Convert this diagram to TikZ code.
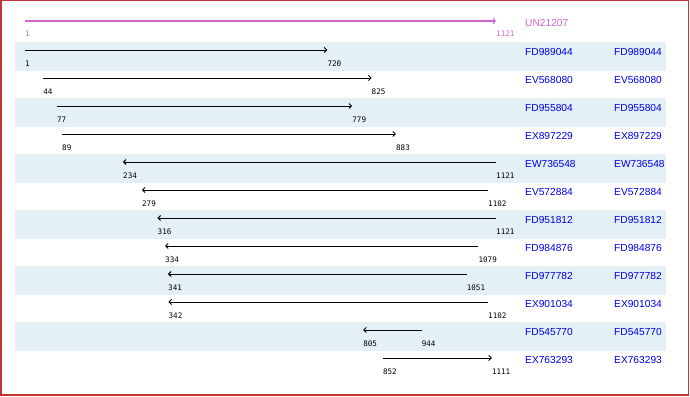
\documentclass[tikz,border=0pt]{standalone}
\usepackage{fontspec}
\setmainfont{Liberation Sans}
\newfontfamily\numfont{DejaVu Sans Mono}
\usetikzlibrary{arrows.meta}
\definecolor{frame}{RGB}{192,52,52}
\definecolor{band}{RGB}{227,240,245}
\definecolor{query}{RGB}{204,102,204}
\definecolor{acc}{RGB}{0,0,230}

\begin{document}
\begin{tikzpicture}[x=1pt, y=-1pt,
  hit/.style={line width=0.9pt, -{Straight Barb[length=2.5pt,width=5pt]}},
  qline/.style={query, line width=2pt, -{Straight Barb[length=2.5pt,width=6pt,line width=0.9pt]}},
  num/.style={font=\numfont\fontsize{7.6}{8}\selectfont, anchor=west, inner sep=0pt},
  accname/.style={acc, font=\fontsize{10.2}{10}\selectfont, anchor=west, inner sep=0pt}]
\useasboundingbox (0,0) rectangle (690,396);
% frame
\draw[frame, line width=1.5pt] (0.75,0.75) rectangle (688.5,394.75);
% shaded rows
\foreach \y in {42,98,154,210,266,322}
  \fill[band] (15,\y) rectangle (666,\y+28.5);
% hits, positions 1..1121 along the query
\begin{scope}[x=0.42054pt, xshift=24.58pt]
% UN21207 (query)
\coordinate (q0) at (1,21); \coordinate (q1) at (1121,21);
\draw[qline] (q0) -- (q1);
\node[num, query] (q0l) at ([yshift=-13pt]q0) {1};
\node[num, query] (q1l) at ([yshift=-13pt]q1) {1121};
% FD989044
\coordinate (a0) at (1,50); \coordinate (a1) at (720,50);
\draw[hit] (a0) -- (a1);
\node[num] (a0l) at ([yshift=-14pt]a0) {1};
\node[num] (a1l) at ([yshift=-14pt]a1) {720};
% EV568080
\coordinate (b0) at (44,78); \coordinate (b1) at (825,78);
\draw[hit] (b0) -- (b1);
\node[num] (b0l) at ([yshift=-14pt]b0) {44};
\node[num] (b1l) at ([yshift=-14pt]b1) {825};
% FD955804
\coordinate (c0) at (77,106); \coordinate (c1) at (779,106);
\draw[hit] (c0) -- (c1);
\node[num] (c0l) at ([yshift=-14pt]c0) {77};
\node[num] (c1l) at ([yshift=-14pt]c1) {779};
% EX897229
\coordinate (d0) at (89,134); \coordinate (d1) at (883,134);
\draw[hit] (d0) -- (d1);
\node[num] (d0l) at ([yshift=-14pt]d0) {89};
\node[num] (d1l) at ([yshift=-14pt]d1) {883};
% EW736548 (reverse)
\coordinate (e0) at (234,162); \coordinate (e1) at (1121,162);
\draw[hit] (e1) -- (e0);
\node[num] (e0l) at ([yshift=-14pt]e0) {234};
\node[num] (e1l) at ([yshift=-14pt]e1) {1121};
% EV572884 (reverse)
\coordinate (f0) at (279,190); \coordinate (f1) at (1102,190);
\draw[hit] (f1) -- (f0);
\node[num] (f0l) at ([yshift=-14pt]f0) {279};
\node[num] (f1l) at ([yshift=-14pt]f1) {1102};
% FD951812 (reverse)
\coordinate (g0) at (316,218); \coordinate (g1) at (1121,218);
\draw[hit] (g1) -- (g0);
\node[num] (g0l) at ([yshift=-14pt]g0) {316};
\node[num] (g1l) at ([yshift=-14pt]g1) {1121};
% FD984876 (reverse)
\coordinate (h0) at (334,246); \coordinate (h1) at (1079,246);
\draw[hit] (h1) -- (h0);
\node[num] (h0l) at ([yshift=-14pt]h0) {334};
\node[num] (h1l) at ([yshift=-14pt]h1) {1079};
% FD977782 (reverse)
\coordinate (i0) at (341,274); \coordinate (i1) at (1051,274);
\draw[hit] (i1) -- (i0);
\node[num] (i0l) at ([yshift=-14pt]i0) {341};
\node[num] (i1l) at ([yshift=-14pt]i1) {1051};
% EX901034 (reverse)
\coordinate (j0) at (342,302); \coordinate (j1) at (1102,302);
\draw[hit] (j1) -- (j0);
\node[num] (j0l) at ([yshift=-14pt]j0) {342};
\node[num] (j1l) at ([yshift=-14pt]j1) {1102};
% FD545770 (reverse)
\coordinate (k0) at (805,330); \coordinate (k1) at (944,330);
\draw[hit] (k1) -- (k0);
\node[num] (k0l) at ([yshift=-14pt]k0) {805};
\node[num] (k1l) at ([yshift=-14pt]k1) {944};
% EX763293
\coordinate (l0) at (852,358); \coordinate (l1) at (1111,358);
\draw[hit] (l0) -- (l1);
\node[num] (l0l) at ([yshift=-14pt]l0) {852};
\node[num] (l1l) at ([yshift=-14pt]l1) {1111};
\end{scope}
% accession names
\node[accname, query] (qname) at (525,22.5) {UN21207};
\node[accname] (aname) at (525,51.5) {FD989044};
\node[accname] (aname2) at (614,51.5) {FD989044};
\node[accname] (bname) at (525,79.5) {EV568080};
\node[accname] (bname2) at (614,79.5) {EV568080};
\node[accname] (cname) at (525,107.5) {FD955804};
\node[accname] (cname2) at (614,107.5) {FD955804};
\node[accname] (dname) at (525,135.5) {EX897229};
\node[accname] (dname2) at (614,135.5) {EX897229};
\node[accname] (ename) at (525,163.5) {EW736548};
\node[accname] (ename2) at (614,163.5) {EW736548};
\node[accname] (fname) at (525,191.5) {EV572884};
\node[accname] (fname2) at (614,191.5) {EV572884};
\node[accname] (gname) at (525,219.5) {FD951812};
\node[accname] (gname2) at (614,219.5) {FD951812};
\node[accname] (hname) at (525,247.5) {FD984876};
\node[accname] (hname2) at (614,247.5) {FD984876};
\node[accname] (iname) at (525,275.5) {FD977782};
\node[accname] (iname2) at (614,275.5) {FD977782};
\node[accname] (jname) at (525,303.5) {EX901034};
\node[accname] (jname2) at (614,303.5) {EX901034};
\node[accname] (kname) at (525,331.5) {FD545770};
\node[accname] (kname2) at (614,331.5) {FD545770};
\node[accname] (lname) at (525,359.5) {EX763293};
\node[accname] (lname2) at (614,359.5) {EX763293};
\end{tikzpicture}
\end{document}
